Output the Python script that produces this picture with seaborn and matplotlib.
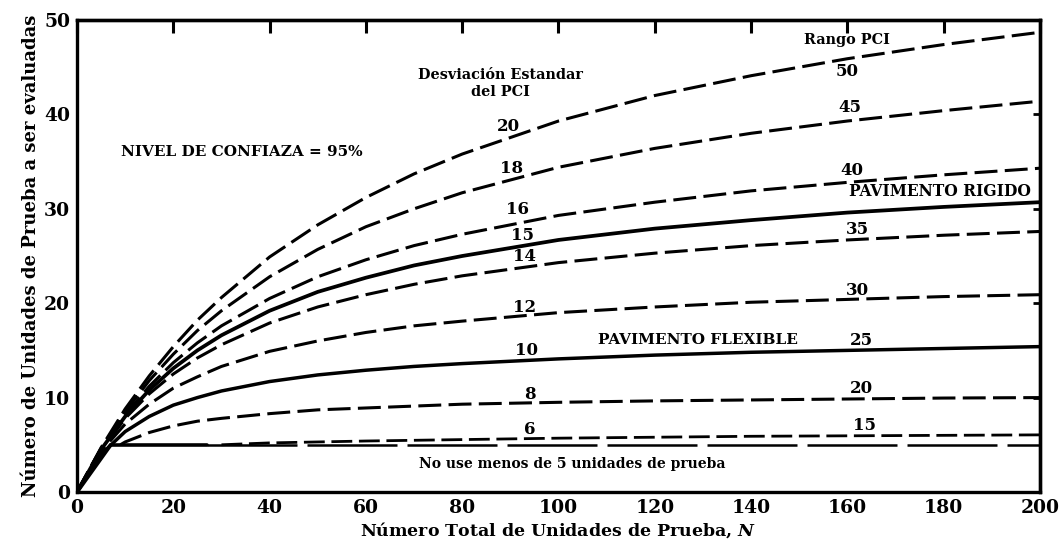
import matplotlib
matplotlib.use("Agg")
import matplotlib.pyplot as plt
import seaborn as sns
import pandas as pd

# ---------------- data ----------------
N_grid = [0, 5, 10, 15, 20, 25, 30, 40, 50, 60, 70, 80, 100, 120, 140, 160, 180, 200]
sd20 = [0, 4.7, 8.8, 12.3, 15.4, 18.2, 20.6, 24.9, 28.3, 31.2, 33.7, 35.8, 39.3, 42.0, 44.1, 45.9, 47.4, 48.7]
sd18 = [0, 4.6, 8.5, 11.8, 14.6, 17.1, 19.2, 22.8, 25.7, 28.1, 30.0, 31.7, 34.4, 36.4, 38.0, 39.3, 40.4, 41.4]
sd16 = [0, 4.6, 8.2, 11.2, 13.7, 15.8, 17.6, 20.5, 22.8, 24.6, 26.1, 27.3, 29.3, 30.7, 31.9, 32.8, 33.6, 34.3]
sd15 = [0, 4.5, 8.0, 10.8, 13.1, 15.0, 16.6, 19.2, 21.2, 22.7, 24.0, 25.0, 26.7, 27.9, 28.8, 29.6, 30.2, 30.7]
sd14 = [0, 4.4, 7.8, 10.4, 12.5, 14.2, 15.6, 17.9, 19.6, 20.9, 22.0, 22.9, 24.3, 25.3, 26.1, 26.7, 27.2, 27.6]
sd12 = [0, 4.3, 7.2, 9.3, 11.0, 12.2, 13.3, 14.9, 16.0, 16.9, 17.6, 18.1, 19.0, 19.6, 20.1, 20.4, 20.7, 20.9]
sd10 = [0, 4.0, 6.4, 8.0, 9.2, 10.0, 10.7, 11.7, 12.4, 12.9, 13.3, 13.6, 14.1, 14.5, 14.8, 15.0, 15.2, 15.4]
sd8_N = [9, 10, 15, 20, 25, 30, 40, 50, 60, 70, 80, 100, 120, 140, 160, 180, 200]
sd8 = [5.0, 5.3, 6.3, 7.0, 7.5, 7.8, 8.3, 8.7, 8.9, 9.1, 9.3, 9.5, 9.65, 9.75, 9.85, 9.95, 10.0]
sd6_N = [30, 40, 50, 60, 80, 100, 120, 140, 160, 180, 200]
sd6 = [5.0, 5.2, 5.3, 5.4, 5.55, 5.7, 5.8, 5.9, 5.95, 6.0, 6.05]
min_rise_N = [0, 7]
min_rise = [0, 5]
min_solid_N = [7, 27]
min_solid = [5, 5]
min_flat_N = [27, 200]
min_flat = [5, 5]

x_ticks = [0, 20, 40, 60, 80, 100, 120, 140, 160, 180, 200]
y_ticks = [0, 10, 20, 30, 40, 50]

# ---------------- style ----------------
sns.set_style("white")
plt.rcParams["font.family"] = ["DejaVu Serif"]
plt.rcParams["font.weight"] = "bold"
plt.rcParams["text.color"] = "black"
plt.rcParams["axes.labelcolor"] = "black"
plt.rcParams["xtick.color"] = "black"
plt.rcParams["ytick.color"] = "black"
plt.rcParams["mathtext.fontset"] = "custom"
plt.rcParams["mathtext.it"] = "DejaVu Serif:italic:bold"
plt.rcParams["mathtext.rm"] = "DejaVu Serif:bold"

fig = plt.figure(figsize=(10.64, 5.5), dpi=100)
ax = fig.add_axes([0.0724, 0.1055, 0.9050, 0.8581])

dash = (7.5, 2.4)
series = [
    (N_grid, sd20, dash, 2.2),
    (N_grid, sd18, dash, 2.2),
    (N_grid, sd16, dash, 2.2),
    (N_grid, sd15, None, 2.7),
    (N_grid, sd14, dash, 2.2),
    (N_grid, sd12, dash, 2.2),
    (N_grid, sd10, None, 2.5),
    (sd8_N, sd8, dash, 2.2),
    (sd6_N, sd6, dash, 2.0),
]
for xs, ys, ds, lw in series:
    df = pd.DataFrame({"N": xs, "n": ys})
    kw = dict(color="black", linewidth=lw, errorbar=None, ax=ax)
    if ds is not None:
        kw["dashes"] = ds
    sns.lineplot(data=df, x="N", y="n", **kw)

sns.lineplot(x=min_rise_N, y=min_rise, color="black", linewidth=2.8, errorbar=None, ax=ax)
sns.lineplot(x=min_solid_N, y=min_solid, color="black", linewidth=2.6, errorbar=None, ax=ax)
sns.lineplot(x=min_flat_N, y=min_flat, color="black", linewidth=1.8,
             dashes=(36, 4), errorbar=None, ax=ax)

ax.set_xlim(0, 200)
ax.set_ylim(0, 50)
ax.set_xticks(x_ticks)
ax.set_yticks(y_ticks)
ax.tick_params(axis="x", direction="in", length=13, width=2.2, labelsize=13.5, pad=5,
               colors="black")
ax.tick_params(axis="y", direction="in", length=8, width=2.2, labelsize=13.5, pad=5,
               colors="black")
for lab in ax.get_xticklabels() + ax.get_yticklabels():
    lab.set_fontweight("bold")

top = ax.secondary_xaxis("top")
top.set_xticks(x_ticks)
top.tick_params(direction="in", length=9.5, width=2.2, labeltop=False, colors="black")
right = ax.secondary_yaxis("right")
right.set_yticks(y_ticks)
right.tick_params(direction="in", length=5, width=2.0, labelright=False, colors="black")
for a in (ax, top, right):
    for sp in a.spines.values():
        sp.set_linewidth(2.4)
        sp.set_color("black")

ax.set_xlabel("Número Total de Unidades de Prueba, $N$", fontsize=12.5, fontweight="bold",
              labelpad=2, color="black")
ax.set_ylabel("Número de Unidades de Prueba a ser evaluadas", fontsize=13, fontweight="bold",
              labelpad=3, color="black")

tk = dict(fontsize=10.4, fontweight="bold", ha="center", va="center", color="black")
ax.text(88, 43.3, "Desviación Estandar\ndel PCI", linespacing=1.3, **tk)
ax.text(9.1, 36.0, "NIVEL DE CONFIAZA = 95%", fontsize=11, fontweight="bold", ha="left",
        va="center", color="black")
ax.text(160, 47.9, "Rango PCI", **tk)

nk = dict(fontsize=12, fontweight="bold", ha="center", va="center", color="black")
left_labels = [(89.5, 38.7, "20"), (90.3, 34.3, "18"), (91.4, 29.9, "16"), (92.6, 27.2, "15"),
               (93.0, 24.9, "14"), (93.0, 19.5, "12"), (93.4, 15.0, "10"), (94.0, 10.3, "8"),
               (94.0, 6.6, "6")]
for x, y, s in left_labels:
    ax.text(x, y, s, **nk)

right_labels = [(160, 44.5, "50"), (160.5, 40.7, "45"), (161, 34.1, "40"), (162, 27.8, "35"),
                (162, 21.3, "30"), (163, 16.1, "25"), (163, 11.0, "20"), (163.6, 7.0, "15")]
for x, y, s in right_labels:
    ax.text(x, y, s, **nk)

ax.text(179.3, 31.8, "PAVIMENTO RIGIDO", fontsize=11.2, fontweight="bold", ha="center",
        va="center", color="black")
ax.text(129, 16.1, "PAVIMENTO FLEXIBLE", fontsize=11, fontweight="bold", ha="center",
        va="center", color="black")
ax.text(102.8, 3.0, "No use menos de 5 unidades de prueba", fontsize=10, fontweight="bold",
        ha="center", va="center", color="black")

fig.savefig("out.png", dpi=100)
